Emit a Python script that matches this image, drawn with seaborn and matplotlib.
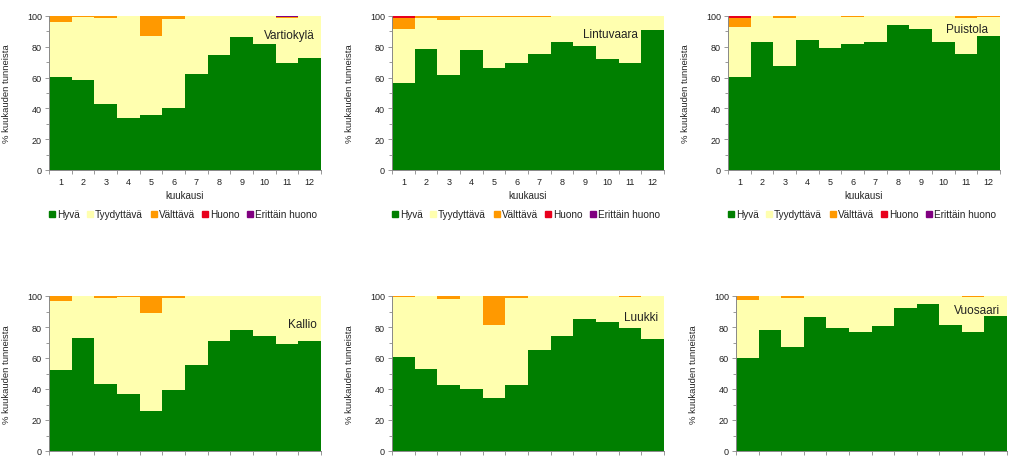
import numpy as np
import pandas as pd
import matplotlib
matplotlib.use("Agg")
import matplotlib.pyplot as plt
from matplotlib.lines import Line2D
from matplotlib.ticker import MultipleLocator, FixedLocator, NullFormatter
import seaborn as sns

months = [str(m) for m in range(1, 13)]
categories = ["Hyvä", "Tyydyttävä", "Välttävä", "Huono", "Erittäin huono"]
colors = ["#007F00", "#FFFFAF", "#FF9900", "#E8001C", "#800080"]
stations = ["Vartiokylä", "Lintuvaara", "Puistola", "Kallio", "Luukki", "Vuosaari"]

# Vartiokylä
vartiokyla_hyva = [60.1, 58.6, 42.7, 33.6, 35.6, 40.1, 62.3, 74.8, 86.3, 81.6, 69.2, 72.5]
vartiokyla_tyyd = [36.1, 40.9, 56.1, 66.1, 51.6, 57.9, 37.7, 25.2, 13.7, 18.4, 29.8, 27.5]
vartiokyla_valt = [3.5, 0.5, 1.2, 0.3, 12.8, 2.0, 0, 0, 0, 0, 0.3, 0]
vartiokyla_huono = [0.3, 0, 0, 0, 0, 0, 0, 0, 0, 0, 0.2, 0]
vartiokyla_eritt = [0, 0, 0, 0, 0, 0, 0, 0, 0, 0, 0.5, 0]

# Lintuvaara
lintuvaara_hyva = [56.2, 78.3, 61.6, 77.9, 66.2, 69.6, 75.1, 82.9, 80.5, 72.0, 69.4, 90.7]
lintuvaara_tyyd = [35.6, 20.7, 35.6, 21.4, 33.2, 29.6, 24.5, 16.9, 19.5, 27.8, 30.3, 9.3]
lintuvaara_valt = [7.2, 1.0, 2.8, 0.5, 0.4, 0.8, 0.4, 0.2, 0, 0.2, 0.3, 0]
lintuvaara_huono = [0.8, 0, 0, 0.2, 0.2, 0, 0, 0, 0, 0, 0, 0]
lintuvaara_eritt = [0.2, 0, 0, 0, 0, 0, 0, 0, 0, 0, 0, 0]

# Puistola
puistola_hyva = [60.1, 83.1, 67.5, 84.6, 79.0, 81.6, 82.9, 93.9, 91.3, 82.9, 75.1, 86.8]
puistola_tyyd = [32.7, 16.7, 31.0, 15.1, 20.8, 17.7, 17.1, 6.1, 8.7, 17.1, 23.9, 12.6]
puistola_valt = [6.0, 0.2, 1.5, 0.3, 0.2, 0.7, 0, 0, 0, 0, 1.0, 0.6]
puistola_huono = [1.0, 0, 0, 0, 0, 0, 0, 0, 0, 0, 0, 0]
puistola_eritt = [0.2, 0, 0, 0, 0, 0, 0, 0, 0, 0, 0, 0]

# Kallio
kallio_hyva = [52.3, 73.0, 43.4, 36.5, 25.9, 39.5, 55.3, 70.8, 77.8, 74.3, 69.1, 71.1]
kallio_tyyd = [44.2, 26.7, 55.4, 62.6, 63.1, 59.3, 44.7, 29.2, 22.2, 25.7, 30.9, 28.9]
kallio_valt = [3.5, 0.3, 1.2, 0.6, 11.0, 1.0, 0, 0, 0, 0, 0, 0]
kallio_huono = [0, 0, 0, 0.3, 0, 0.2, 0, 0, 0, 0, 0, 0]
kallio_eritt = [0, 0, 0, 0, 0, 0, 0, 0, 0, 0, 0, 0]

# Luukki
luukki_hyva = [60.5, 52.7, 42.5, 39.7, 33.9, 42.5, 65.4, 74.1, 85.1, 83.4, 79.3, 72.1]
luukki_tyyd = [39.0, 47.3, 55.7, 60.3, 47.3, 56.3, 34.6, 25.9, 14.9, 16.6, 20.1, 27.9]
luukki_valt = [0.5, 0, 1.8, 0, 18.8, 1.2, 0, 0, 0, 0, 0.3, 0]
luukki_huono = [0, 0, 0, 0, 0, 0, 0, 0, 0, 0, 0.3, 0]
luukki_eritt = [0, 0, 0, 0, 0, 0, 0, 0, 0, 0, 0, 0]

# Vuosaari
vuosaari_hyva = [60.0, 78.2, 67.2, 86.6, 79.3, 76.9, 80.6, 92.0, 95.0, 81.0, 76.9, 87.0]
vuosaari_tyyd = [37.2, 21.8, 31.8, 13.4, 20.4, 22.8, 19.4, 8.0, 5.0, 19.0, 22.6, 12.7]
vuosaari_valt = [2.8, 0, 1.0, 0, 0.3, 0.3, 0, 0, 0, 0, 0.5, 0.3]
vuosaari_huono = [0, 0, 0, 0, 0, 0, 0, 0, 0, 0, 0, 0]
vuosaari_eritt = [0, 0, 0, 0, 0, 0, 0, 0, 0, 0, 0, 0]

station_data = {
    "Vartiokylä": [vartiokyla_hyva, vartiokyla_tyyd, vartiokyla_valt, vartiokyla_huono, vartiokyla_eritt],
    "Lintuvaara": [lintuvaara_hyva, lintuvaara_tyyd, lintuvaara_valt, lintuvaara_huono, lintuvaara_eritt],
    "Puistola": [puistola_hyva, puistola_tyyd, puistola_valt, puistola_huono, puistola_eritt],
    "Kallio": [kallio_hyva, kallio_tyyd, kallio_valt, kallio_huono, kallio_eritt],
    "Luukki": [luukki_hyva, luukki_tyyd, luukki_valt, luukki_huono, luukki_eritt],
    "Vuosaari": [vuosaari_hyva, vuosaari_tyyd, vuosaari_valt, vuosaari_huono, vuosaari_eritt],
}

sns.set_theme(style="white")
plt.rcParams["font.family"] = ["Liberation Sans", "DejaVu Sans"]
plt.rcParams["text.color"] = "#222222"

fig = plt.figure(figsize=(10.23, 4.60), dpi=100)
W, H = 1023, 460

# axes pixel boxes: (left, top, right, bottom)
boxes = {
    "Vartiokylä": (49, 17, 321, 171),
    "Lintuvaara": (392, 17, 664, 171),
    "Puistola": (728, 17, 1000, 171),
    "Kallio": (49, 297, 321, 452),
    "Luukki": (392, 297, 664, 452),
    "Vuosaari": (736, 297, 1007, 452),
}
label_pos = {
    "Vartiokylä": (0.978, 0.877),
    "Lintuvaara": (0.903, 0.88),
    "Puistola": (0.956, 0.915),
    "Kallio": (0.985, 0.82),
    "Luukki": (0.978, 0.867),
    "Vuosaari": (0.974, 0.91),
}

for st in stations:
    l, t, r, b = boxes[st]
    ax = fig.add_axes([l / W, (H - b) / H, (r - l) / W, (b - t) / H])
    vals = np.array(station_data[st], dtype=float)
    cum = np.cumsum(vals, axis=0)
    df = pd.DataFrame({"kuukausi": months})
    for i, c in enumerate(categories):
        df[c] = cum[i]
    # draw cumulative bars from top layer down so each lower layer covers the one above
    for i in range(len(categories) - 1, -1, -1):
        sns.barplot(data=df, x="kuukausi", y=categories[i], color=colors[i],
                    saturation=1, width=1.0, linewidth=0, edgecolor="none", ax=ax)
    ax.set_xlim(-0.5, 11.5)
    ax.set_ylim(0, 100)
    ax.yaxis.set_major_locator(MultipleLocator(20))
    ax.yaxis.set_minor_locator(MultipleLocator(10))
    ax.xaxis.set_minor_locator(FixedLocator(np.arange(-0.5, 12, 1.0)))
    ax.xaxis.set_minor_formatter(NullFormatter())
    ax.tick_params(axis="x", which="major", length=0, labelsize=6.5, pad=5, colors="#222222")
    ax.tick_params(axis="x", which="minor", length=3, width=0.6, color="#888888", direction="out", bottom=True)
    ax.tick_params(axis="y", which="major", length=3, width=0.6, color="#888888", labelsize=6.5, pad=2,
                   labelcolor="#222222", left=True)
    ax.tick_params(axis="y", which="minor", length=2, width=0.6, color="#888888", left=True)
    for s in ["top", "right"]:
        ax.spines[s].set_visible(False)
    for s in ["left", "bottom"]:
        ax.spines[s].set_color("#888888")
        ax.spines[s].set_linewidth(0.7)
    ax.set_ylabel("% kuukauden tunneista", fontsize=6.8)
    ax.yaxis.set_label_coords(-38 / (r - l), 0.5)
    ax.set_xlabel("kuukausi", fontsize=7)
    ax.xaxis.set_label_coords(0.5, -25 / (b - t))
    ax.xaxis.label.set_verticalalignment("center")
    ax.text(*label_pos[st], st, transform=ax.transAxes, ha="right", va="center", fontsize=8.5)
    handles = [Line2D([], [], marker="s", linestyle="", color=c, markersize=3.8) for c in colors]
    ax.legend(handles, categories, loc="center", bbox_to_anchor=(0.49, -44 / (b - t)), ncol=5,
              frameon=False, fontsize=7.2, handletextpad=0.05, columnspacing=0.6, handlelength=0.9,
              borderpad=0, borderaxespad=0)

fig.savefig("out.png", dpi=100)
